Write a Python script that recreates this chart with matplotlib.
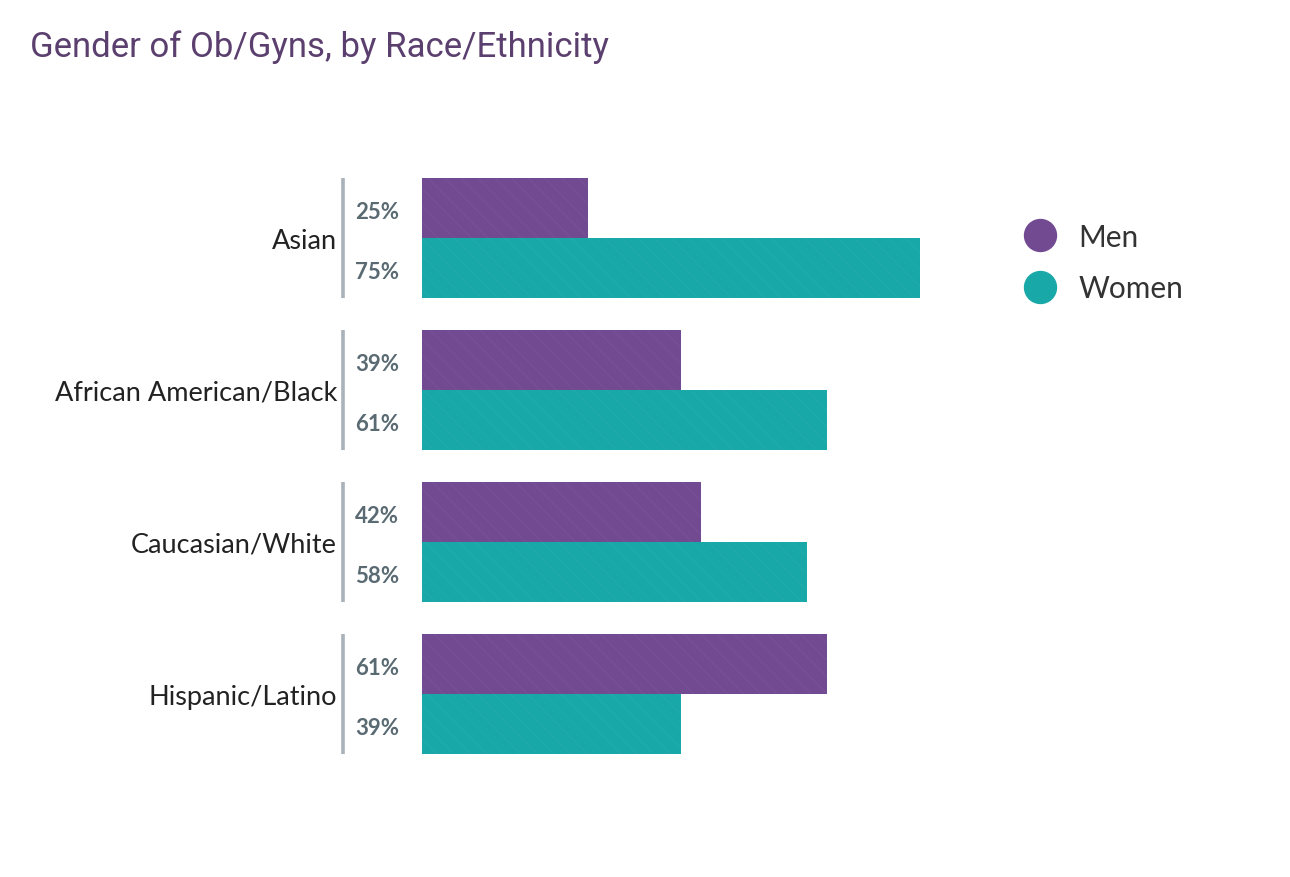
import matplotlib
matplotlib.use("Agg")
import matplotlib.pyplot as plt
import matplotlib.transforms as mtransforms
from matplotlib.lines import Line2D
import numpy as np

categories = ["Asian", "African American/Black", "Caucasian/White", "Hispanic/Latino"]
men = [25, 39, 42, 61]
women = [75, 61, 58, 39]
series_names = ["Men", "Women"]
colors = ["#724a92", "#19a8a8"]
title = "Gender of Ob/Gyns, by Race/Ethnicity"

plt.rcParams["hatch.linewidth"] = 0.4

W, H = 1290, 878
fig = plt.figure(figsize=(W / 100, H / 100), dpi=100)
fig.patch.set_facecolor("white")

ax_left, ax_right = 422, 1086
ax_top, ax_bottom = 163, 771
ax = fig.add_axes([ax_left / W, (H - ax_bottom) / H, (ax_right - ax_left) / W, (ax_bottom - ax_top) / H])

n = len(categories)
y = np.arange(n)
bh = 60 / 152
ax.barh(y - bh / 2, men, height=bh, color=colors[0], edgecolor=(1, 1, 1, 0.07), hatch="\\\\", linewidth=0)
ax.barh(y + bh / 2, women, height=bh, color=colors[1], edgecolor=(1, 1, 1, 0.07), hatch="\\\\", linewidth=0)

ax.set_xlim(0, 100)
ax.set_ylim(n - 0.5, -0.5)
for s in ax.spines.values():
    s.set_visible(False)
ax.set_xticks([])
ax.set_yticks(y)
ax.set_yticklabels(categories, family="Lato", fontsize=19.5, color="#222222")
ax.tick_params(axis="y", length=0, pad=85 * 0.72)

trans = mtransforms.blended_transform_factory(ax.transAxes, ax.transData)
line_x = -79 / (ax_right - ax_left)
for i in range(n):
    ax.plot([line_x, line_x], [i - bh, i + bh], transform=trans, color="#aab3ba", lw=2.6,
            clip_on=False, solid_capstyle="butt")
    for val, off in ((men[i], -bh / 2), (women[i], bh / 2)):
        ax.annotate(f"{val}%", xy=(0, i + off + 0.02), xycoords=trans, xytext=(-67 * 0.72, 0),
                    textcoords="offset points", ha="left", va="center", family="Lato",
                    fontweight="bold", fontsize=16, color="#5a6a72")

fig.text(30 / W, 1 - 47 / H, title, family="Roboto", fontsize=25, color="#5b3f6e",
         ha="left", va="center")

handles = [Line2D([], [], marker="o", linestyle="none", markersize=23, color=c) for c in colors]
leg = fig.legend(handles, series_names, loc="upper left", bbox_to_anchor=(998 / W, 1 - 212 / H),
                 frameon=False, prop={"family": "Lato", "size": 21.5}, labelspacing=0.78,
                 handletextpad=0.3, borderaxespad=0)
for t in leg.get_texts():
    t.set_color("#333333")

fig.savefig("out.png", dpi=100, facecolor="white")
